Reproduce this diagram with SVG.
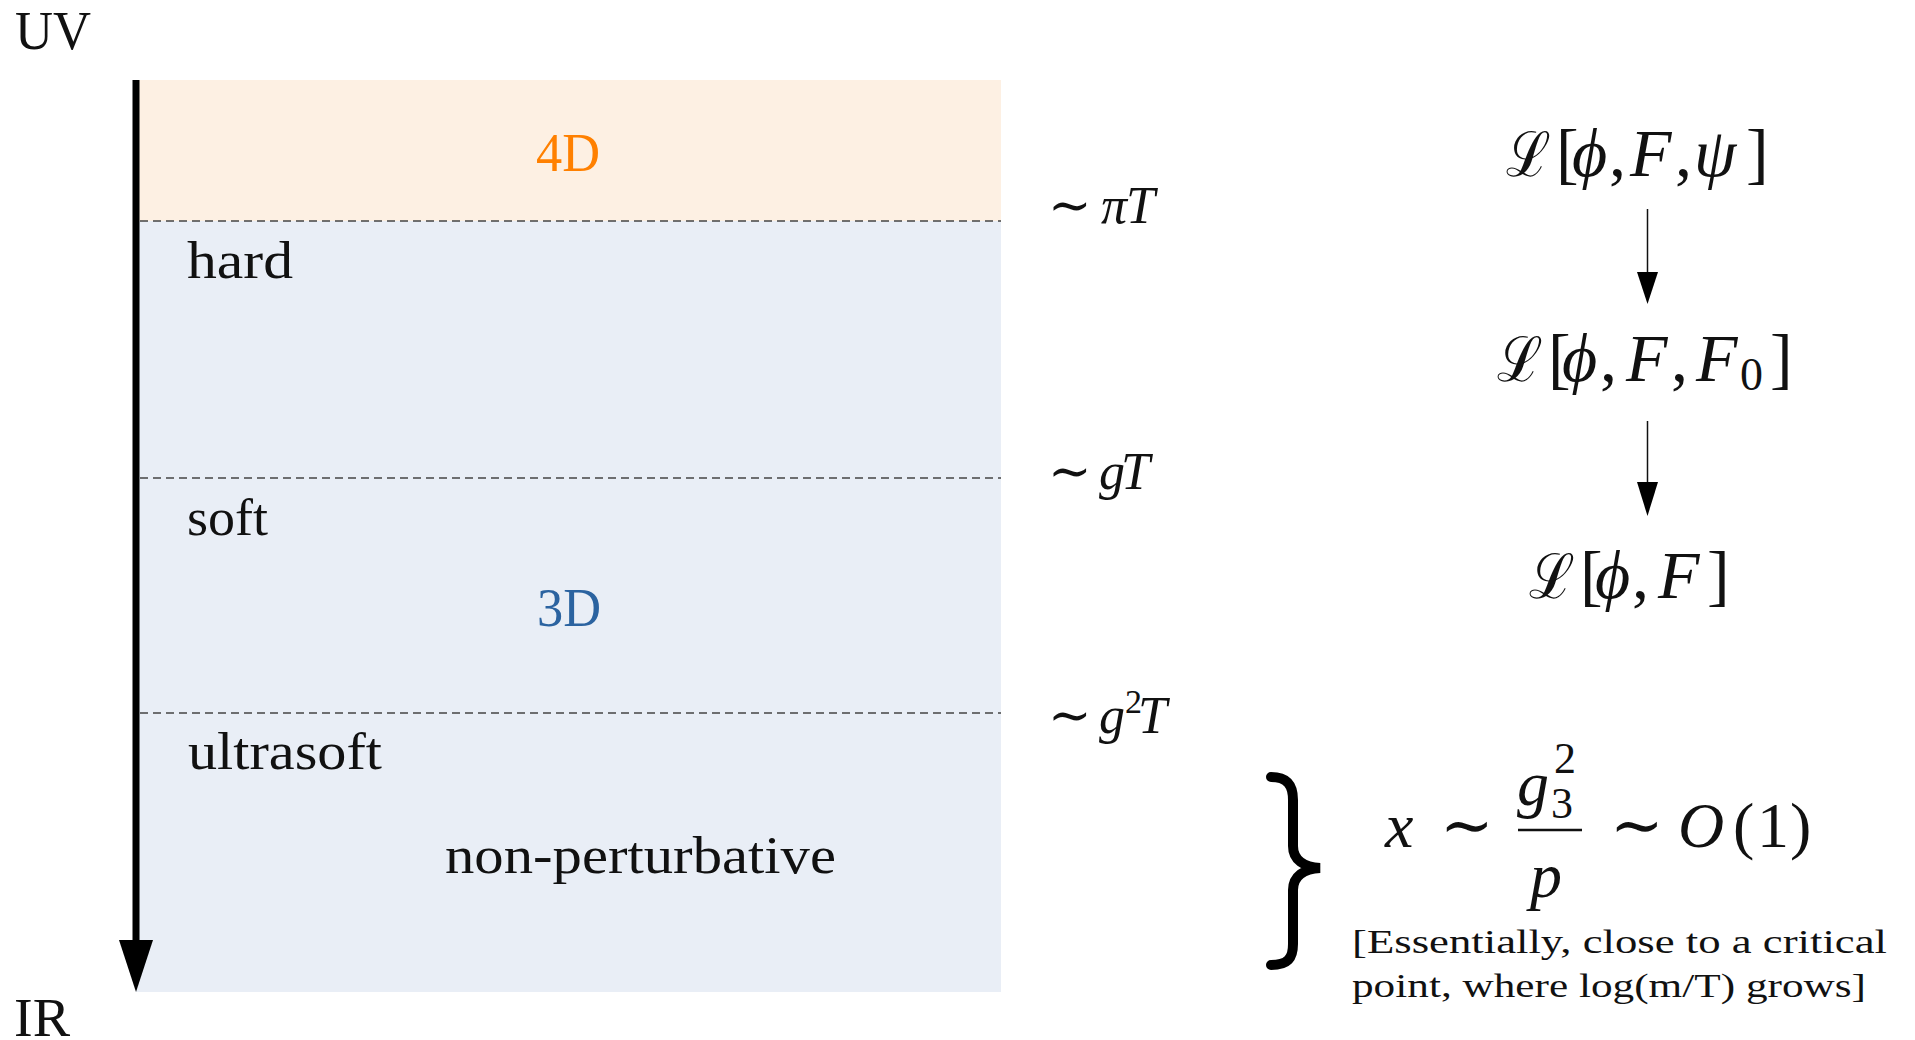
<svg xmlns="http://www.w3.org/2000/svg" width="1915" height="1040" viewBox="0 0 1915 1040">
<style>
.rm{font-family:"Liberation Serif","DejaVu Serif",serif;font-style:normal;fill:#111;}
.it{font-family:"Liberation Serif","DejaVu Serif",serif;font-style:italic;fill:#111;}
.cal{font-family:"DejaVu Serif","Liberation Serif",serif;font-style:normal;fill:#111;}
.dash{stroke:#444;stroke-width:1.3;stroke-dasharray:8 5;fill:none;}
.thin{stroke:#111;stroke-width:1.5;fill:none;}
</style>
<rect x="0" y="0" width="1915" height="1040" fill="#fff"/>
<g id="bands">
  <rect x="136" y="80" width="865" height="141" fill="#fdf0e3"/>
  <rect x="136" y="221" width="865" height="771" fill="#e9eef6"/>
</g>
<g id="connectors">
  <line class="dash" x1="140" y1="221" x2="1001" y2="221"/>
  <line class="dash" x1="140" y1="478" x2="1001" y2="478"/>
  <line class="dash" x1="140" y1="713" x2="1001" y2="713"/>
  <line x1="136" y1="80" x2="136" y2="945" stroke="#000" stroke-width="7"/>
  <polygon points="119,940 153,940 136,992" fill="#000"/>
  <line class="thin" x1="1647.5" y1="209" x2="1647.5" y2="274"/>
  <polygon points="1637,272 1658,272 1647.5,304" fill="#000"/>
  <line class="thin" x1="1647.5" y1="421" x2="1647.5" y2="484"/>
  <polygon points="1637,482 1658,482 1647.5,516" fill="#000"/>
  <path d="M1271,777 C1288,777 1293,786 1293,800 L1293,846 C1293,860 1304,867 1320,868 C1304,869 1293,876 1293,890 L1293,944 C1293,958 1288,965 1271,965" fill="none" stroke="#000" stroke-width="10" stroke-linecap="round"/>
</g>
<g id="uv"><text class="rm" x="15" y="49" font-size="54" textLength="76" lengthAdjust="spacingAndGlyphs">UV</text></g>
<g id="ir"><text class="rm" x="14" y="1036" font-size="54" textLength="56" lengthAdjust="spacingAndGlyphs">IR</text></g>
<g id="label-4d"><text class="rm" x="536" y="171" font-size="54" textLength="64" lengthAdjust="spacingAndGlyphs" style="fill:#ff8000">4D</text></g>
<g id="label-3d"><text class="rm" x="537" y="626" font-size="54" textLength="64" lengthAdjust="spacingAndGlyphs" style="fill:#2b63a0">3D</text></g>
<g id="label-hard"><text class="rm" x="187" y="278" font-size="52" textLength="106" lengthAdjust="spacingAndGlyphs">hard</text></g>
<g id="label-soft"><text class="rm" x="187" y="535" font-size="52" textLength="81" lengthAdjust="spacingAndGlyphs">soft</text></g>
<g id="label-ultrasoft"><text class="rm" x="188" y="769" font-size="52" textLength="194" lengthAdjust="spacingAndGlyphs">ultrasoft</text></g>
<g id="label-nonpert"><text class="rm" x="445" y="873" font-size="52" textLength="391" lengthAdjust="spacingAndGlyphs">non-perturbative</text></g>
<g id="scale-piT"><text class="it" y="223" font-size="52"><tspan class="rm" x="1048">∼</tspan><tspan x="1101">π</tspan><tspan x="1126">T</tspan></text></g>
<g id="scale-gT"><text class="it" y="489" font-size="52"><tspan class="rm" x="1048">∼</tspan><tspan x="1099">g</tspan><tspan x="1121">T</tspan></text></g>
<g id="scale-g2T"><text class="it" y="733" font-size="52"><tspan class="rm" x="1048">∼</tspan><tspan x="1099">g</tspan><tspan class="rm" x="1125" y="713" font-size="34">2</tspan><tspan x="1138" y="733">T</tspan></text></g>
<g id="lag1">
  <text class="cal" x="1506" y="176" font-size="62" textLength="45" lengthAdjust="spacingAndGlyphs">ℒ</text>
  <text class="it" y="176" font-size="68"><tspan class="rm" x="1556">[</tspan><tspan x="1572">ϕ</tspan><tspan class="rm" x="1609">,</tspan><tspan x="1630">F</tspan><tspan class="rm" x="1675">,</tspan><tspan x="1694">ψ</tspan><tspan class="rm" x="1746">]</tspan></text>
</g>
<g id="lag2">
  <text class="cal" x="1497" y="381" font-size="62" textLength="46" lengthAdjust="spacingAndGlyphs">ℒ</text>
  <text class="it" y="381" font-size="68"><tspan class="rm" x="1548">[</tspan><tspan x="1562">ϕ</tspan><tspan class="rm" x="1600">,</tspan><tspan x="1626">F</tspan><tspan class="rm" x="1671">,</tspan><tspan x="1696">F</tspan><tspan class="rm" x="1740" y="390" font-size="46">0</tspan><tspan class="rm" x="1770" y="381">]</tspan></text>
</g>
<g id="lag3">
  <text class="cal" x="1529" y="598" font-size="62" textLength="46" lengthAdjust="spacingAndGlyphs">ℒ</text>
  <text class="it" y="598" font-size="68"><tspan class="rm" x="1580">[</tspan><tspan x="1595">ϕ</tspan><tspan class="rm" x="1632">,</tspan><tspan x="1658">F</tspan><tspan class="rm" x="1707">]</tspan></text>
</g>
<g id="equation">
  <text class="it" y="847" font-size="64"><tspan x="1385">x</tspan><tspan class="rm" x="1440">∼</tspan></text>
  <text class="it" y="805" font-size="64"><tspan x="1517">g</tspan><tspan class="rm" x="1551" y="818" font-size="44">3</tspan><tspan class="rm" x="1554" y="773" font-size="44">2</tspan></text>
  <line x1="1518" y1="830" x2="1582" y2="830" stroke="#111" stroke-width="2.5"/>
  <text class="it" x="1530" y="897" font-size="64">p</text>
  <text class="it" y="847" font-size="64"><tspan class="rm" x="1610">∼</tspan><tspan x="1678">O</tspan><tspan class="rm" x="1733">(</tspan><tspan class="rm" x="1757">1</tspan><tspan class="rm" x="1790">)</tspan></text>
</g>
<g id="note">
  <text class="rm" x="1352" y="953" font-size="34" textLength="535" lengthAdjust="spacingAndGlyphs">[Essentially, close to a critical</text>
  <text class="rm" x="1352" y="997" font-size="34" textLength="514" lengthAdjust="spacingAndGlyphs">point, where log(m/T) grows]</text>
</g>
</svg>
